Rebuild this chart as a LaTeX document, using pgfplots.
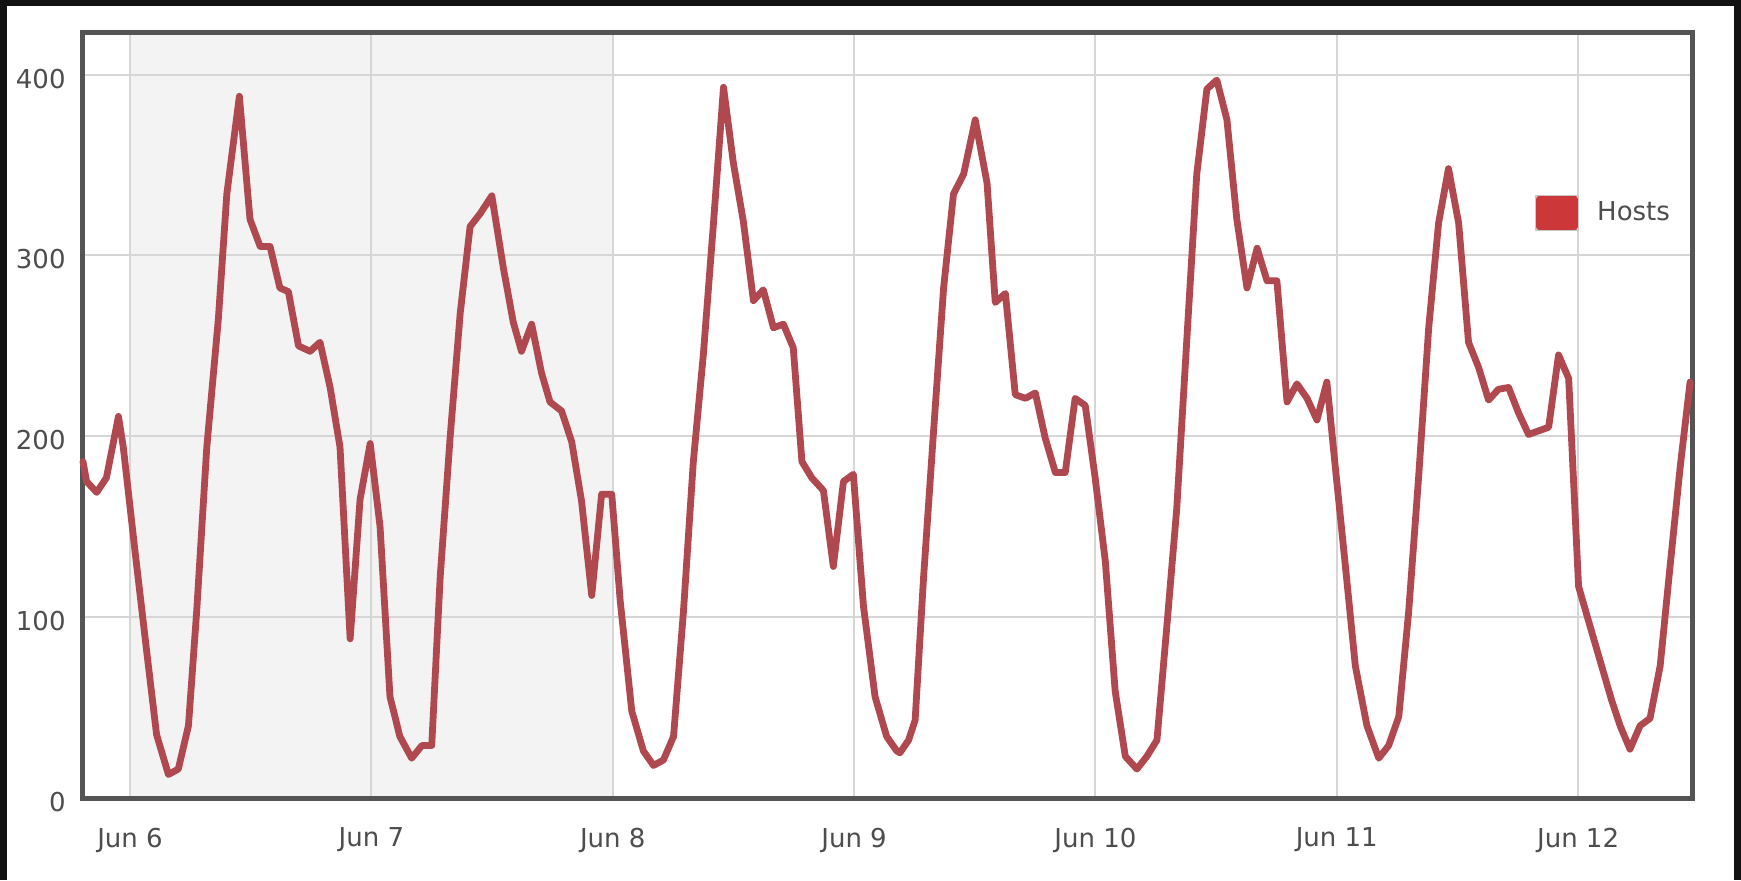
\documentclass[border=0pt]{standalone}
\usepackage{fontspec}
\setmainfont{DejaVu Sans}
\usepackage{pgfplots}
\pgfplotsset{compat=1.18}

\definecolor{bgblack}{RGB}{18,18,18}
\definecolor{framegray}{RGB}{84,84,84}
\definecolor{gridgray}{RGB}{214,214,214}
\definecolor{weekendgray}{RGB}{243,243,243}
\definecolor{linered}{RGB}{176,72,80}
\definecolor{legendred}{RGB}{204,56,58}
\definecolor{legendborder}{RGB}{200,200,200}
\definecolor{labelgray}{RGB}{77,77,77}

\begin{document}
\begin{tikzpicture}
\begin{axis}[
    set layers,
    scale only axis,
    width=804.5pt, height=382.5pt,
    clip=false,
    xmin=-0.195, xmax=6.472,
    ymin=0, ymax=423,
    xtick={0,...,6},
    xticklabels={Jun 6,Jun 7,Jun 8,Jun 9,Jun 10,Jun 11,Jun 12},
    ytick={0,100,...,400},
    major tick length=0pt,
    grid=major,
    major grid style={line width=1pt, draw=gridgray},
    axis line style={line width=2.5pt, draw=framegray},
    tick label style={font=\fontsize{13}{15}\selectfont, text=labelgray},
    xticklabel style={anchor=center, yshift=-21pt},
    yticklabel style={anchor=east, inner sep=0pt, xshift=-8.5pt, yshift=-2pt},
    /pgf/number format/assume math mode=true,
    legend style={at={(0.902,0.765)}, anchor=west, draw=none, fill=none,
        inner sep=0pt, column sep=9pt, font=\fontsize{13}{15}\selectfont,
        text=labelgray, nodes={inner sep=0pt}},
    legend image code/.code={
        \draw[draw=legendborder, line width=0.75pt, fill=white] (0pt,-8.5pt) rectangle (21.5pt,8.5pt);
        \fill[legendred] (1.75pt,-6.75pt) rectangle (19.75pt,6.75pt);
    },
]
\begin{pgfonlayer}{axis background}
    \fill[bgblack] (rel axis cs:-0.05158,-0.10719) rectangle (rel axis cs:1.03045,1.04314);
    \fill[white] (rel axis cs:-0.04723,-0.10719) rectangle (rel axis cs:1.02610,1.03529);
    \fill[weekendgray] (axis cs:0,0) rectangle (axis cs:2,423);
\end{pgfonlayer}

% hosts, roughly hourly samples (x in days from Jun 6)
\addplot[line width=3.4pt, color=linered, line join=round, line cap=round] coordinates {
(-0.195,186) (-0.18,175) (-0.138,169) (-0.098,177) (-0.048,211) (-0.028,194)
(0.021,136) (0.069,81) (0.11,35) (0.159,13) (0.20,16) (0.242,40) (0.276,103)
(0.318,194) (0.366,265) (0.401,334) (0.453,388) (0.497,320) (0.539,305)
(0.58,305) (0.621,282) (0.656,280) (0.698,250) (0.746,247) (0.787,252)
(0.829,227) (0.870,194) (0.912,88) (0.953,165) (0.995,196)
(1.036,150) (1.077,56) (1.118,34) (1.167,22) (1.209,29) (1.25,29) (1.285,122)
(1.326,199) (1.368,268) (1.409,316) (1.45,323) (1.499,333) (1.547,293)
(1.588,263) (1.622,247) (1.664,262) (1.705,235) (1.74,219) (1.788,214)
(1.830,197) (1.871,164) (1.913,112) (1.954,168) (1.996,168)
(2.031,109) (2.079,48) (2.127,26) (2.169,18) (2.21,21) (2.252,34) (2.293,103)
(2.334,186) (2.376,246) (2.417,317) (2.459,393) (2.500,351) (2.541,319)
(2.583,275) (2.624,281) (2.666,260) (2.707,262) (2.748,249) (2.784,186)
(2.825,177) (2.873,170) (2.914,128) (2.956,175) (2.997,179)
(3.039,106) (3.087,56) (3.135,34) (3.177,26) (3.19,25) (3.226,32) (3.253,43)
(3.288,122) (3.329,202) (3.371,282) (3.412,334) (3.454,345) (3.502,375)
(3.551,340) (3.585,274) (3.627,279) (3.668,223) (3.710,221) (3.751,224)
(3.792,199) (3.834,180) (3.875,180) (3.916,221) (3.958,217) (3.999,177)
(4.041,131) (4.082,59) (4.124,23) (4.172,16) (4.213,23) (4.255,32) (4.296,95)
(4.337,160) (4.379,254) (4.42,345) (4.462,392) (4.503,397) (4.545,375)
(4.586,320) (4.628,282) (4.67,304) (4.711,286) (4.752,286) (4.794,219)
(4.835,229) (4.877,221) (4.918,209) (4.959,230) (4.994,183)
(5.036,128) (5.077,73) (5.125,40) (5.174,22) (5.215,29) (5.257,45) (5.298,103)
(5.339,177) (5.381,260) (5.422,318) (5.463,348) (5.505,318) (5.546,252)
(5.588,238) (5.629,220) (5.67,226) (5.712,227) (5.753,213) (5.795,201)
(5.836,203) (5.878,205) (5.919,245) (5.961,232)
(6.002,117) (6.043,98) (6.091,76) (6.139,54) (6.174,40) (6.215,27) (6.257,40)
(6.298,44) (6.340,73) (6.381,128) (6.423,183) (6.464,230)
};
\addlegendentry{Hosts}
\end{axis}
\end{tikzpicture}
\end{document}
